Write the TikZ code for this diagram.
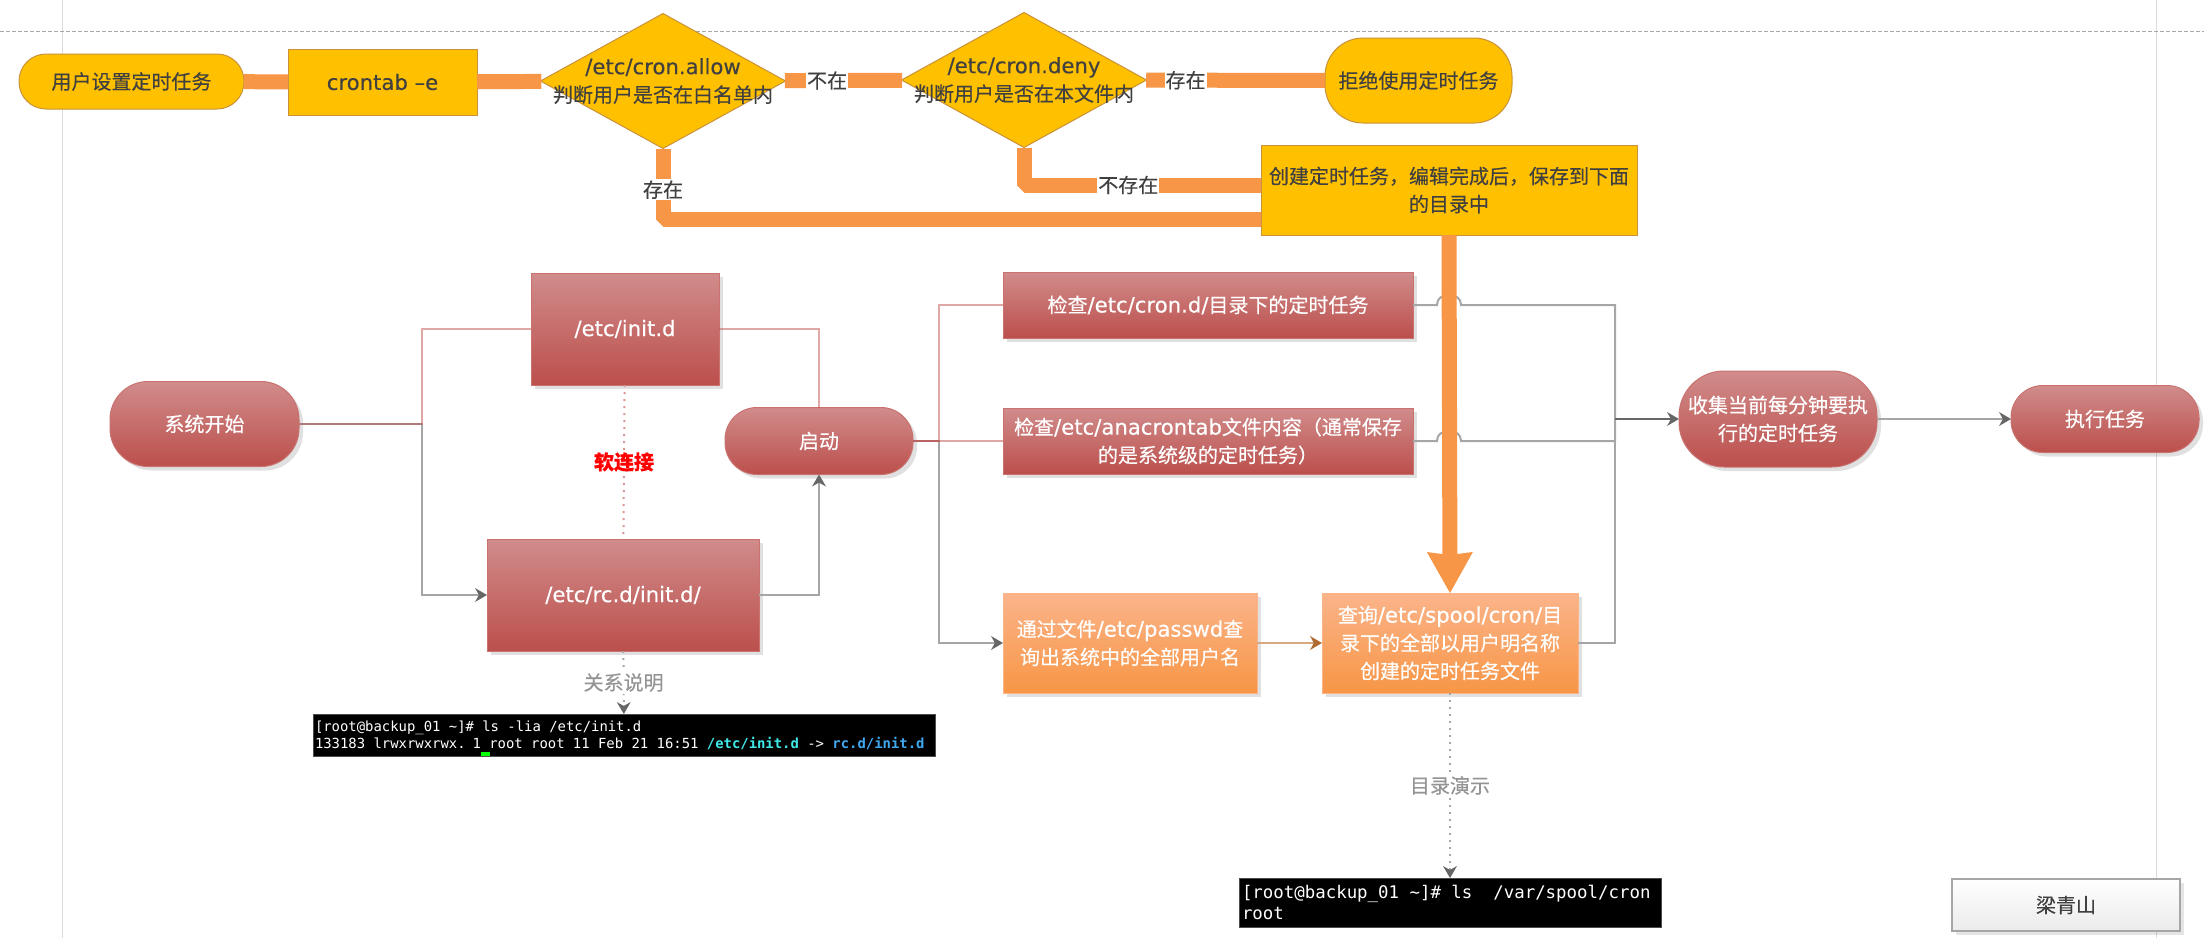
\documentclass[tikz,border=0pt]{standalone}
\usepackage{fontspec}
\usetikzlibrary{shapes,arrows.meta,shadows}
\setmainfont[FakeBold=0.3]{Noto Sans CJK SC}
\newfontfamily\etcfont[Scale=1.06,FakeBold=0.3]{DejaVu Sans}
\newfontfamily\termfont{DejaVu Sans Mono}
\definecolor{flowline}{HTML}{F79646}
\definecolor{goldfill}{HTML}{FFC000}
\definecolor{goldedge}{HTML}{C9923A}
\definecolor{redtop}{HTML}{D08C8B}
\definecolor{redbottom}{HTML}{BC4F4C}
\definecolor{orangetop}{HTML}{FBB48A}
\definecolor{inktext}{HTML}{404040}
\definecolor{greyline}{HTML}{A6A6A6}
\definecolor{greytip}{HTML}{666666}
\definecolor{pinkline}{HTML}{C0504D}
\definecolor{tanline}{HTML}{D8A880}
\definecolor{tantip}{HTML}{B06A30}
\definecolor{termcyan}{HTML}{40E8E8}
\definecolor{termblue}{HTML}{40A8F0}

\begin{document}
\begin{tikzpicture}[x=1pt,y=-1pt,
		every node/.style={font=\fontsize{20}{28}\selectfont, align=center, inner sep=0pt, outer sep=0pt},
		goldbox/.style={rectangle, draw=goldedge, fill=goldfill, text=inktext, line width=1pt},
		goldpill/.style={goldbox, rounded corners=#1},
		golddiamond/.style={diamond, draw=goldedge, fill=goldfill, text=inktext, line width=1pt, minimum width=245pt, minimum height=135pt},
		redbox/.style={rectangle, draw=redbottom!80, top color=redtop, bottom color=redbottom, text=white, line width=1pt,
			drop shadow={shadow xshift=4pt, shadow yshift=-4pt, opacity=.12, fill=black}},
		redpill/.style={redbox, rounded corners=#1},
		orangebox/.style={rectangle, draw=orangetop, top color=orangetop, bottom color=flowline, text=white, line width=1pt,
			drop shadow={shadow xshift=4pt, shadow yshift=-4pt, opacity=.12, fill=black}},
		termbox/.style={rectangle, fill=black, draw=black!70, text=white, align=left}
	]
	\useasboundingbox (0,0) rectangle (2204,938);

	\begin{scope}
		[every path/.style={draw=black!14, line width=1pt}]
		\draw (62,0) -- (62,938);
		\draw (2156,0) -- (2156,938);
		\draw[draw=black!35, dash pattern=on 4pt off 2pt] (0,31) -- (2204,31);
	\end{scope}

	\node(usertask)[goldpill=27, minimum width=225, minimum height=55] at (131.5,81.5) {用户设置定时任务};
	\node(crontab)[goldbox, minimum width=189, minimum height=66] at (382.5,82) {{\etcfont crontab –e}};
	\node(allow)[golddiamond, label={[text=inktext]center:{\etcfont /etc/cron.allow}\\判断用户是否在白名单内}] at (663,81) {};
	\node(deny)[golddiamond, label={[text=inktext]center:{\etcfont /etc/cron.deny}\\判断用户是否在本文件内}] at (1024,80) {};
	\node(refuse)[goldpill=38, minimum width=187, minimum height=85] at (1418.5,80.5) {拒绝使用定时任务};
	\node(create)[goldbox, minimum width=376, minimum height=90] at (1449,190) {创建定时任务，编辑完成后，保存到下面\\的目录中};

	\node(start)[redpill=38, minimum width=189, minimum height=85] at (204.5,424) {系统开始};
	\node(initd)[redbox, minimum width=188, minimum height=112] at (625,329) {{\etcfont /etc/init.d}};
	\node(rcd)[redbox, minimum width=272, minimum height=112] at (623,595) {{\etcfont /etc/rc.d/init.d/}};
	\node(boot)[redpill=32, minimum width=188, minimum height=67] at (819,441) {启动};
	\node(crond)[redbox, minimum width=410, minimum height=66] at (1208,305) {检查{\etcfont /etc/cron.d/}目录下的定时任务};
	\node(anacron)[redbox, minimum width=410, minimum height=66] at (1208,441) {检查{\etcfont /etc/anacrontab}文件内容（通常保存\\的是系统级的定时任务）};
	\node(passwd)[orangebox, minimum width=254, minimum height=100] at (1130,643) {通过文件{\etcfont /etc/passwd}查\\询出系统中的全部用户名};
	\node(spool)[orangebox, minimum width=256, minimum height=100] at (1450,643) {查询{\etcfont /etc/spool/cron/}目\\录下的全部以用户明名称\\创建的定时任务文件};
	\node(collect)[redpill=45, minimum width=198, minimum height=96] at (1778,419) {收集当前每分钟要执\\行的定时任务};
	\node(run)[redpill=32, minimum width=188, minimum height=67] at (2105,419) {执行任务};

	\node(initterm)[termbox, minimum width=622, minimum height=42, text width=618pt, font=\termfont\fontsize{13.9}{16.7}\selectfont] at (624,735)
		{\spaceskip 8.37pt\relax [root@backup\_01 \textasciitilde]\# ls -lia /etc/init.d\\133183 lrwxrwxrwx. 1 root root 11 Feb 21 16:51 \textcolor{termcyan}{\textbf{/etc/init.d}} -> \textcolor{termblue}{\textbf{rc.d/init.d}}};
	\node(cursor)[fill=green, minimum width=9, minimum height=4] at (485.5,754) {};
	\node(cronterm)[termbox, minimum width=422, minimum height=49, text width=416pt, font=\termfont\fontsize{17.4}{21}\selectfont] at (1450,902.5)
		{\spaceskip 10.47pt\relax [root@backup\_01 \textasciitilde]\# ls~~/var/spool/cron\\root};
	\node(author)[rectangle, draw=black!35, top color=white, bottom color=black!8, text=inktext, line width=2pt, minimum width=228, minimum height=52,
		drop shadow={shadow xshift=4pt, shadow yshift=-4pt, opacity=.1, fill=black}] at (2066,905) {梁青山};

	\coordinate (fork) at (422,424);
	\coordinate (split) at (939,441);
	\coordinate (merge) at (1615,419);
	\coordinate (denyin) at (1261,185);
	\coordinate (allowin) at (1261,219.5);

	\begin{scope}
		[>={Stealth[greytip, length=12pt, width=14pt, line width=0pt]},
			every edge/.style={draw=greyline, line width=2pt},
			grey/.style={draw=greyline, line width=2pt},
			pink/.style={draw=pinkline, line width=2pt, opacity=.5}
		]
		\draw[grey,->] (start.east) -- (fork) |- (rcd.west);
		\draw[pink] (start.east) -- (fork) |- (initd.west);
		\draw[grey,->] (rcd.east) -| (boot.south);
		\draw[pink] (initd.east) -| (boot.north);
		\draw[grey,->] (boot.east) -- (split) |- (passwd.west);
		\draw[pink] (boot.east) -- (split) |- (crond.west);
		\draw[pink] (boot.east) -- (anacron.west);
		\draw[grey] (crond.east) -- (1437,305) .. controls (1438,297) and (1441,296) .. (1449,296) .. controls (1457,296) and (1460,297) .. (1461,305) -- (1615,305) -- (merge);
		\draw[grey] (anacron.east) -- (1437,441) .. controls (1438,433) and (1441,432) .. (1449,432) .. controls (1457,432) and (1460,433) .. (1461,441) -- (1615,441) -- (merge);
		\draw[grey] (spool.east) -| (merge);
		\draw[draw=greytip, line width=2.5pt,->] (merge) -- (collect.west);
		\draw[grey,->] (collect.east) -- (run.west);
		\draw[draw=tanline, line width=2pt,-{Stealth[tantip, length=12pt, width=14pt, line width=0pt]}] (passwd.east) -- (spool.west);
	\end{scope}

	\begin{scope}
		[every edge/.style={draw=flowline, line width=15pt},
			every node/.append style={fill=white, text=inktext, inner sep=1pt},
			flow/.style={draw=flowline, line width=15pt, line join=bevel}
		]
		\path
		(usertask) edge (crontab)
		(crontab) edge (allow)
		(allow) edge node[pos=.36]{不在} (deny)
		(deny) edge node[pos=.22]{存在} (refuse);
		\draw[flow] (allow.south) |- node[pos=.29]{存在} (allowin);
		\draw[flow] (deny.south) |- node[pos=.72]{不存在} (denyin);
		\draw[flow,-{Stealth[flowline, length=41pt, width=46pt, inset=3pt, line width=0pt]}] (create.south) -- (spool.north);
	\end{scope}

	\begin{scope}
		[>={Stealth[greytip, length=12pt, width=14pt, line width=0pt]},
			every edge/.style={draw=greyline, line width=2pt, dash pattern=on 2pt off 5pt},
			every node/.append style={fill=white, text=black!42, inner sep=2pt}
		]
		\path[->]
		(rcd) edge node{关系说明} (initterm)
		(spool) edge node{目录演示} (cronterm);
		\path (initd) edge[draw=pinkline!60] node[text=red, font=\fontsize{20}{28}\bfseries\selectfont]{软连接} (rcd);
	\end{scope}
\end{tikzpicture}
\end{document}
